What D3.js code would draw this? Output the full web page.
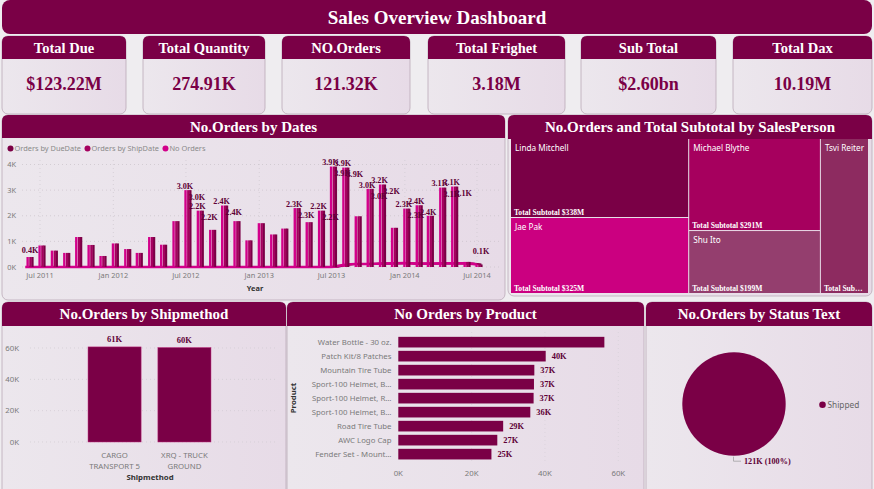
<!DOCTYPE html>
<html>
<head>
<meta charset="utf-8">
<script src="https://cdn.jsdelivr.net/npm/d3@7"></script>
<style>
  html, body { margin: 0; padding: 0; background: #efedf0; }
  svg { display: block; }
</style>
</head>
<body>
<div id="chart"></div>
<script>
// ---- data ----
const kpiTitles = ["Total Due", "Total Quantity", "NO.Orders", "Total Frighet", "Sub Total", "Total Dax"];
const kpiValues = ["$123.22M", "274.91K", "121.32K", "3.18M", "$2.60bn", "10.19M"];

// monthly order spikes (K), month of the order batch
const orderMonths = ["2011-05", "2011-06", "2011-07", "2011-08", "2011-09", "2011-10", "2011-11", "2011-12",
  "2012-01", "2012-02", "2012-03", "2012-04", "2012-05", "2012-06", "2012-07", "2012-08", "2012-09", "2012-10", "2012-11", "2012-12",
  "2013-01", "2013-02", "2013-03", "2013-04", "2013-05", "2013-06", "2013-07", "2013-08", "2013-09", "2013-10", "2013-11", "2013-12",
  "2014-01", "2014-02", "2014-03", "2014-04", "2014-05", "2014-06"];
const ordersK = [0.39, 0.84, 0.64, 0.55, 1.17, 0.86, 0.43, 0.92,
  0.70, 0.55, 1.17, 0.87, 1.79, 3.0, 2.2, 1.45, 2.4, 1.79, 1.04, 1.71,
  1.27, 1.5, 2.3, 1.75, 2.2, 3.92, 3.88, 1.98, 3.05, 3.22, 1.53, 2.28,
  2.41, 2.0, 3.1, 3.14, 0.2, 0.1];
// low daily level between the spikes (K)
const baseK = [0, 0, 0, 0, 0, 0, 0, 0,
  0, 0, 0, 0, 0, 0, 0, 0, 0, 0, 0, 0,
  0, 0, 0, 0, 0, 0, 0.08, 0.12, 0.12, 0.13, 0.14, 0.15,
  0.13, 0.13, 0.14, 0.14, 0.14, 0.1];
const dateSeries = ["Orders by DueDate", "Orders by ShipDate", "No Orders"];
const dateLagDays = [12, 7, 0];
const dateTicks = ["2011-07", "2012-01", "2012-07", "2013-01", "2013-07", "2014-01", "2014-07"];

const salesPersons = ["Linda Mitchell", "Jae Pak", "Michael Blythe", "Shu Ito", "Tsvi Reiter"];
const salesSubtotalM = [338, 325, 291, 199, 179];

const shipMethods = ["CARGO TRANSPORT 5", "XRQ - TRUCK GROUND"];
const shipOrdersK = [60.7, 60.3];

const products = ["Water Bottle - 30 oz.", "Patch Kit/8 Patches", "Mountain Tire Tube", "Sport-100 Helmet, Blue",
  "Sport-100 Helmet, Red", "Sport-100 Helmet, Black", "Road Tire Tube", "AWC Logo Cap", "Fender Set - Mountain"];
const productOrdersK = [56.2, 40.2, 37.1, 37.0, 36.9, 36.0, 28.6, 27.0, 25.4];

const statusNames = ["Shipped"];
const statusOrdersK = [121.32];

// ---- style ----
const W = 874, H = 489;
const maroon = "#7a0046";
const labelDark = "#5e0036";
const serif = '"Liberation Serif","Times New Roman",serif';
const sans = '"Noto Sans","Open Sans","DejaVu Sans",sans-serif';
const grey = "#7a7a7a";

const svg = d3.select("#chart").append("svg").attr("width", W).attr("height", H);
const defs = svg.append("defs");
const bodyGrad = defs.append("linearGradient").attr("id", "bodyGrad")
  .attr("x1", 0).attr("x2", 1).attr("y1", 0).attr("y2", 0);
bodyGrad.append("stop").attr("offset", "0%").attr("stop-color", "#ece7ed");
bodyGrad.append("stop").attr("offset", "100%").attr("stop-color", "#e7dbe7");

svg.append("rect").attr("width", W).attr("height", H).attr("fill", "#efedf0");

function panel(x, y, w, h, hh, title, fs) {
  const r = 6;
  svg.append("rect").attr("x", x).attr("y", y).attr("width", w).attr("height", h).attr("rx", r)
    .attr("fill", "url(#bodyGrad)").attr("stroke", "#bba9b7").attr("stroke-width", 0.8);
  svg.append("path")
    .attr("d", `M${x},${y + hh}V${y + r}Q${x},${y} ${x + r},${y}H${x + w - r}Q${x + w},${y} ${x + w},${y + r}V${y + hh}Z`)
    .attr("fill", maroon);
  svg.append("text").attr("x", x + w / 2).attr("y", y + hh / 2).attr("dy", "0.35em")
    .attr("text-anchor", "middle").attr("font-family", serif).attr("font-weight", "bold")
    .attr("font-size", fs).attr("fill", "#fff").text(title);
}

// shorten a text node with an ellipsis until it fits
function fitText(sel, maxW) {
  sel.each(function () {
    const t = d3.select(this);
    let s = t.text();
    while (s.length > 1 && this.getComputedTextLength() > maxW) {
      s = s.slice(0, -1);
      t.text(s.trimEnd() + "…");
    }
  });
}

// ---- title ----
svg.append("rect").attr("x", 2).attr("y", 0).attr("width", 870).attr("height", 34).attr("rx", 8).attr("fill", maroon);
svg.append("text").attr("x", 437).attr("y", 17).attr("dy", "0.35em").attr("text-anchor", "middle")
  .attr("font-family", serif).attr("font-weight", "bold").attr("font-size", 19).attr("fill", "#fff")
  .text("Sales Overview Dashboard");

// ---- KPI cards ----
const cardX = [[2, 126], [143, 265], [282, 410], [428, 565], [581, 716], [733, 872]];
kpiTitles.forEach((t, i) => {
  const [x0, x1] = cardX[i];
  panel(x0, 36, x1 - x0, 78, 23, t, 14.5);
  svg.append("text").attr("x", (x0 + x1) / 2).attr("y", 84).attr("dy", "0.35em").attr("text-anchor", "middle")
    .attr("font-family", serif).attr("font-weight", "bold").attr("font-size", 18).attr("fill", maroon)
    .text(kpiValues[i]);
});

// ---- No.Orders by Dates ----
panel(2, 115, 503, 185, 23, "No.Orders by Dates", 15);
{
  const parseM = d3.timeParse("%Y-%m");
  const monthEnd = m => d3.timeDay.offset(d3.timeMonth.offset(parseM(m), 1), -1);
  const x = d3.scaleTime().domain([parseM("2011-07"), parseM("2014-07")]).range([40, 477]);
  const y = d3.scaleLinear().domain([0, 4]).range([267, 164.5]);
  const colors = ["#7b0046", "#a5005f", "#d2008a"];
  const g = svg.append("g");

  // legend
  let lx = 8;
  dateSeries.forEach((s, i) => {
    g.append("circle").attr("cx", lx + 2.5).attr("cy", 148.5).attr("r", 3).attr("fill", colors[i]);
    const t = g.append("text").attr("x", lx + 6.5).attr("y", 148.5).attr("dy", "0.35em")
      .attr("font-family", sans).attr("font-size", 7.4).attr("fill", "#8a8a8a").text(s);
    lx += 6.5 + t.node().getComputedTextLength() + 4;
  });

  // grid
  g.selectAll(".hg").data(y.ticks(4)).join("line")
    .attr("x1", 22).attr("x2", 500).attr("y1", d => y(d)).attr("y2", d => y(d))
    .attr("stroke", "#c8c2c9").attr("stroke-width", 0.7).attr("stroke-dasharray", "1,3");
  g.selectAll(".vg").data(dateTicks.map(parseM)).join("line")
    .attr("x1", d => x(d)).attr("x2", d => x(d)).attr("y1", 160).attr("y2", 267)
    .attr("stroke", "#cfc9d0").attr("stroke-width", 0.7).attr("stroke-dasharray", "1,3");

  // y ticks
  g.selectAll(".yl").data(y.ticks(4)).join("text")
    .attr("x", 16).attr("y", d => y(d)).attr("dy", "0.35em").attr("text-anchor", "end")
    .attr("font-family", sans).attr("font-size", 7.4).attr("fill", grey).text(d => d + "K");
  // x ticks
  g.selectAll(".xl").data(dateTicks.map(parseM)).join("text")
    .attr("x", d => x(d)).attr("y", 275.5).attr("dy", "0.35em").attr("text-anchor", "middle")
    .attr("font-family", sans).attr("font-size", 7.4).attr("fill", grey).text(d3.timeFormat("%b %Y"));
  g.append("text").attr("x", 255).attr("y", 288).attr("dy", "0.35em").attr("text-anchor", "middle")
    .attr("font-family", sans).attr("font-weight", "bold").attr("font-size", 7.4).attr("fill", "#333").text("Year");

  // low level lines and spikes
  dateSeries.forEach((s, i) => {
    const pts = orderMonths.map((m, j) => [x(d3.timeDay.offset(monthEnd(m), dateLagDays[i])), y(baseK[j])]);
    pts.unshift([x(d3.timeDay.offset(monthEnd(orderMonths[0]), dateLagDays[i] - 6)), y(0)]);
    g.append("path").attr("d", d3.line().curve(d3.curveMonotoneX)(pts))
      .attr("fill", "none").attr("stroke", colors[i]).attr("stroke-width", i === 2 ? 2.6 : 1.8);
  });
  dateSeries.forEach((s, i) => {
    g.selectAll(null).data(orderMonths).join("rect")
      .attr("x", m => x(d3.timeDay.offset(monthEnd(m), dateLagDays[i])) - 1.2)
      .attr("width", 2.4)
      .attr("y", (m, j) => y(ordersK[j]))
      .attr("height", (m, j) => y(0) - y(ordersK[j]))
      .attr("fill", colors[i]);
  });

  // data labels
  const fmt = v => d3.format(".1f")(v) + "K";
  orderMonths.forEach((m, j) => {
    const v = ordersK[j];
    const cx = x(monthEnd(m)) + 2.4;
    const lab = (xx, yy, txt) => g.append("text").attr("x", xx).attr("y", yy).attr("dy", "0.35em")
      .attr("text-anchor", "middle").attr("font-family", serif).attr("font-weight", "bold")
      .attr("font-size", 8.2).attr("fill", labelDark).text(txt);
    if (v >= 2.2) {
      lab(cx - 3, y(v) - 4, fmt(v));
      lab(cx + 9, y(v) + 7, fmt(v));
    } else if (j === 0 || j === orderMonths.length - 1) {
      lab(cx + (j === 0 ? 0 : 2), y(Math.max(v, 0.35)) - 7, fmt(v));
    }
  });
}

// ---- treemap ----
panel(508, 115, 364, 181, 24, "No.Orders and Total Subtotal by SalesPerson", 15);
{
  const root = d3.hierarchy({ children: salesPersons.map((p, i) => ({ name: p, value: salesSubtotalM[i] })) })
    .sum(d => d.value || 0).sort((a, b) => b.value - a.value);
  d3.treemap().size([357, 154]).paddingInner(1).round(false)(root);
  const tColors = { "Linda Mitchell": "#7a0046", "Jae Pak": "#cb0080", "Michael Blythe": "#a6005e", "Shu Ito": "#943e6e", "Tsvi Reiter": "#8d2b60" };
  const g = svg.append("g").attr("transform", "translate(511,139)");
  const cell = g.selectAll("g").data(root.leaves()).join("g")
    .attr("transform", d => `translate(${d.x0},${d.y0})`);
  cell.append("rect").attr("width", d => d.x1 - d.x0).attr("height", d => d.y1 - d.y0)
    .attr("fill", d => tColors[d.data.name]);
  cell.append("text").attr("x", 4).attr("y", 9).attr("dy", "0.35em")
    .attr("font-family", sans).attr("font-size", 8.2).attr("fill", "#fff").text(d => d.data.name)
    .each(function (d) { fitText(d3.select(this), d.x1 - d.x0 - 6); });
  cell.append("text").attr("x", 3).attr("y", d => d.y1 - d.y0 - 5).attr("dy", "0.35em")
    .attr("font-family", serif).attr("font-weight", "bold").attr("font-size", 7.6).attr("fill", "#fff")
    .text(d => "Total Subtotal $" + d.data.value + "M")
    .each(function (d) { fitText(d3.select(this), d.x1 - d.x0 - 6); });
}

// ---- No.Orders by Shipmethod ----
panel(2, 302, 284, 195, 24, "No.Orders by Shipmethod", 15);
{
  const x = d3.scaleBand().domain(shipMethods).range([44, 255]).paddingInner(0.24).paddingOuter(0.63);
  const y = d3.scaleLinear().domain([0, 60]).range([442, 348]);
  const g = svg.append("g");
  g.selectAll(".hg").data(y.ticks(3)).join("line")
    .attr("x1", 30).attr("x2", 276).attr("y1", d => y(d)).attr("y2", d => y(d))
    .attr("stroke", "#d0cad1").attr("stroke-width", 0.7).attr("stroke-dasharray", "1,3");
  g.selectAll(".yl").data(y.ticks(3)).join("text")
    .attr("x", 19).attr("y", d => y(d)).attr("dy", "0.35em").attr("text-anchor", "end")
    .attr("font-family", sans).attr("font-size", 7.8).attr("fill", grey).text(d => d + "K");
  g.selectAll(".bar").data(shipMethods).join("rect")
    .attr("x", d => x(d)).attr("width", x.bandwidth())
    .attr("y", (d, i) => y(shipOrdersK[i])).attr("height", (d, i) => y(0) - y(shipOrdersK[i]))
    .attr("fill", maroon).attr("stroke", "#c0307f").attr("stroke-width", 0.5);
  g.selectAll(".vl").data(shipMethods).join("text")
    .attr("x", d => x(d) + x.bandwidth() / 2).attr("y", (d, i) => y(shipOrdersK[i]) - 8).attr("dy", "0.35em")
    .attr("text-anchor", "middle").attr("font-family", serif).attr("font-weight", "bold")
    .attr("font-size", 8.5).attr("fill", labelDark).text((d, i) => d3.format(".0f")(shipOrdersK[i]) + "K");
  // wrapped category labels
  shipMethods.forEach(name => {
    const t = g.append("text").attr("text-anchor", "middle").attr("font-family", sans)
      .attr("font-size", 7.8).attr("fill", grey);
    const words = name.split(" ");
    let lines = [], cur = [];
    const probe = t.append("tspan");
    words.forEach(w => {
      cur.push(w);
      probe.text(cur.join(" "));
      if (probe.node().getComputedTextLength() > 54 && cur.length > 1) {
        cur.pop(); lines.push(cur.join(" ")); cur = [w];
      }
    });
    lines.push(cur.join(" "));
    probe.remove();
    lines.forEach((l, k) => t.append("tspan").attr("x", x(name) + x.bandwidth() / 2)
      .attr("y", 455 + k * 11).attr("dy", "0.35em").text(l));
  });
  g.append("text").attr("x", 150).attr("y", 477).attr("dy", "0.35em").attr("text-anchor", "middle")
    .attr("font-family", sans).attr("font-weight", "bold").attr("font-size", 7.8).attr("fill", "#333").text("Shipmethod");
}

// ---- No Orders by Product ----
panel(287, 302, 357, 195, 24, "No Orders by Product", 15);
{
  const x = d3.scaleLinear().domain([0, 60]).range([398.3, 618.3]);
  const y = d3.scaleBand().domain(products).range([335.3, 461]).paddingInner(0.24).paddingOuter(0.11);
  const g = svg.append("g");
  g.selectAll(".vg").data(x.ticks(3).slice(1)).join("line")
    .attr("x1", d => x(d)).attr("x2", d => x(d)).attr("y1", 332).attr("y2", 462)
    .attr("stroke", "#d6d0d7").attr("stroke-width", 0.7).attr("stroke-dasharray", "1,3");
  g.selectAll(".bar").data(products).join("rect")
    .attr("x", x(0)).attr("y", d => y(d)).attr("height", y.bandwidth())
    .attr("width", (d, i) => x(productOrdersK[i]) - x(0)).attr("fill", maroon);
  g.selectAll(".cl").data(products).join("text")
    .attr("x", 391.5).attr("y", d => y(d) + y.bandwidth() / 2).attr("dy", "0.35em").attr("text-anchor", "end")
    .attr("font-family", sans).attr("font-size", 7.8).attr("fill", grey).text(d => d)
    .call(fitText, 80);
  g.selectAll(".vl").data(products.filter((d, i) => x(productOrdersK[i]) + 22 < 600)).join("text")
    .attr("x", d => x(productOrdersK[products.indexOf(d)]) + 6).attr("y", d => y(d) + y.bandwidth() / 2)
    .attr("dy", "0.35em").attr("font-family", serif).attr("font-weight", "bold").attr("font-size", 8.4)
    .attr("fill", labelDark).text(d => d3.format(".0f")(productOrdersK[products.indexOf(d)]) + "K");
  g.selectAll(".xl").data(x.ticks(3)).join("text")
    .attr("x", d => x(d)).attr("y", 473).attr("dy", "0.35em").attr("text-anchor", "middle")
    .attr("font-family", sans).attr("font-size", 7.8).attr("fill", grey).text(d => d + "K");
  g.append("text").attr("transform", "translate(293.5,398) rotate(-90)").attr("dy", "0.35em")
    .attr("text-anchor", "middle").attr("font-family", sans).attr("font-weight", "bold")
    .attr("font-size", 7.8).attr("fill", "#333").text("Product");
}

// ---- No.Orders by Status Text ----
panel(646, 302, 226, 195, 24, "No.Orders by Status Text", 15);
{
  const cx = 734, cy = 404, r = 51.7;
  const total = d3.sum(statusOrdersK);
  const arcs = d3.pie().sort(null)(statusOrdersK);
  const g = svg.append("g").attr("transform", `translate(${cx},${cy})`);
  g.selectAll("path").data(arcs).join("path")
    .attr("d", d3.arc().innerRadius(0).outerRadius(r)).attr("fill", maroon);
  svg.append("polyline").attr("points", `${cx - 0.5},${cy + r + 1} ${cx - 0.5},${cy + r + 5.5} ${cx + 7},${cy + r + 5.5}`)
    .attr("fill", "none").attr("stroke", "#9a9a9a").attr("stroke-width", 0.7);
  svg.append("text").attr("x", cx + 10).attr("y", cy + r + 5.5).attr("dy", "0.35em")
    .attr("font-family", serif).attr("font-weight", "bold").attr("font-size", 8.2).attr("fill", labelDark)
    .text(d3.format(".0f")(statusOrdersK[0]) + "K (" + d3.format(".0%")(statusOrdersK[0] / total) + ")");
  statusNames.forEach((s, i) => {
    svg.append("circle").attr("cx", 822.5).attr("cy", 404.7 + i * 12).attr("r", 3.3).attr("fill", maroon);
    svg.append("text").attr("x", 827.5).attr("y", 404.7 + i * 12).attr("dy", "0.35em")
      .attr("font-family", sans).attr("font-size", 8.3).attr("fill", "#666").text(s);
  });
}
</script>
</body>
</html>
